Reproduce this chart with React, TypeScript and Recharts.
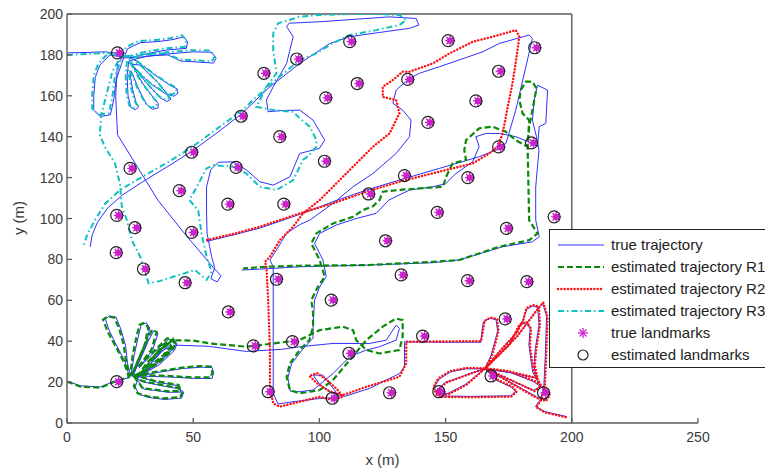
import React from 'react';
import { ComposedChart, Line, Scatter, XAxis, YAxis, ReferenceLine } from 'recharts';

// true trajectories (one per robot)
const trueR1 = [
  [0, 20.5], [5.3, 18.2], [13.2, 17.6], [19.1, 20.6], [24.8, 22.2],
  [23, 30], [19.6, 38], [16.8, 45], [15.2, 50.8], [16.8, 52.4], [19.4, 51.8], [21.3, 46], [23.2, 38], [24, 29], [25.3, 22.8],
  [26.6, 33], [28.2, 42], [29.4, 48], [31.4, 49], [32.8, 46.5], [31.3, 38], [27.8, 28], [26, 22.8],
  [29.7, 33], [32.2, 40], [34.4, 45.2], [36.1, 44], [34, 36], [28.6, 27],
  [31.6, 31], [36.6, 37], [40.2, 40.8], [42.6, 40.6], [43, 38.5], [38.6, 32.5], [30.6, 24.6], [34.6, 31.5], [38.6, 37.5], [41.6, 40],
  [43.6, 39], [42.6, 35.5], [36.6, 28.5], [29.6, 23.6], [33.6, 29.5], [37.6, 35], [41.1, 38.5], [42.1, 36.5], [37.6, 30.5], [30.6, 24.6],
  [26.5, 22.6], [35.5, 24.6], [45.5, 26.6], [53.3, 27.3], [57.5, 27.1], [58.1, 24.6], [57.5, 21.8], [50.5, 21.8], [40.5, 22.5], [28.5, 23],
  [27, 17.6], [28.5, 14], [32.5, 12.5], [38.8, 11.5], [45.4, 12.2], [46.3, 15], [44.5, 16.7], [38.5, 18], [30.5, 20], [27.5, 21.6],
  [30.5, 16.6], [40.5, 15], [45, 15.1], [44.7, 18.1], [35.5, 20], [28.5, 22.6], [32.5, 29.5], [38.5, 36], [43, 38], [45, 38],
  [56, 37.5], [71, 35], [85, 36], [92.2, 37.3], [105.4, 38.9], [119.9, 38.9], [126.5, 40.5],
  [130.4, 47.9], [131.7, 46.2], [130.4, 40.5], [123.8, 37.3], [118.6, 35.7], [112, 32.4], [105.4, 24.2], [97.5, 16.1], [92.2, 15.3],
  [88.5, 15.5], [87.5, 22], [89, 29], [93, 35.5], [97.5, 41.5], [97.5, 48.7], [98.1, 60.1], [100.1, 66.6], [102.7, 71.5], [101.4, 79.7],
  [98.1, 87.8], [100.1, 92.7], [106.7, 96.8], [114.6, 100], [122.5, 102.5], [127.5, 109], [135.7, 113.9], [144.9, 115.5], [150, 117],
  [154.1, 122], [160.7, 127.7], [163.3, 135.1], [162, 140], [166, 141.6], [171.3, 141.6], [177.8, 140], [184.4, 136.7], [186.4, 135.1],
  [187.1, 144.9], [189.7, 146.5], [190.4, 162.8], [186.4, 165.2], [185.1, 157.9], [184.4, 148.1], [186, 140], [187, 133.5], [185.7, 115.5],
  [185.7, 99.2], [187.1, 91.1], [184.4, 88.6], [172.6, 86.2], [155.4, 79.7], [144.9, 78.4], [118.6, 77.2], [92.2, 76.4], [80, 75.5], [69.2, 74.8],
];
const trueR2 = [
  [55.3, 88.8], [66, 92], [76.4, 95.3], [92.2, 102], [105.4, 108.2], [118.6, 113.9], [131.7, 118.8], [147.5, 124.5], [163.3, 130.2],
  [169.9, 133.5], [173.9, 136.7], [177.8, 153], [181.8, 174.2], [184.4, 188.1], [183.1, 189.7], [171.3, 185.6], [164.7, 181.5],
  [147.5, 174.2], [139.6, 171], [135.7, 168.5], [130.4, 162.8], [129.1, 156.3], [133, 153], [136.3, 148.1], [135.7, 140], [130.4, 131.8],
  [121.2, 122], [113.3, 115.5], [105.4, 107.4], [96.2, 99.2], [92.2, 97], [86.9, 92.7], [83, 84.6], [80.4, 79.7], [81.7, 76.4],
  [81.7, 14.5], [83.6, 9.3], [89.6, 10.4], [100.1, 12], [108, 12.5], [106, 16], [101.4, 23.4], [97.5, 23.4], [100, 19], [105, 14.5],
  [110, 13], [120, 17], [131.7, 24.2], [133.7, 27.5], [133.7, 39.7], [150, 39.5], [164, 39.5],
  [164.4, 45], [165, 49.6], [167.5, 51.2], [170, 50.5], [170.6, 45], [168, 33], [165.5, 26.5],
  [158, 26.5], [152, 25], [147.5, 21.5], [145.5, 17.5], [146.8, 14], [151, 14.5], [158, 19], [165.5, 26.5],
  [150, 20], [146, 15.5], [148, 13.2], [160, 13], [175.7, 13.3], [177.8, 15.5], [176, 17.5], [170, 21], [165.5, 26.5],
  [172, 36], [178, 44], [180.5, 50], [182.3, 55.8], [184.5, 57.2], [186.5, 56.5], [187, 48], [185.5, 36], [185, 28], [186, 22], [176, 24.5], [165.5, 26.5],
  [175, 38], [179.6, 47.9], [182, 49], [183.5, 46], [183, 38], [184.5, 25], [187.5, 18], [185, 16], [165.5, 26.5],
  [175, 25], [184.9, 20.2], [189, 16.5], [190.9, 13.7], [189.5, 11.2], [186.5, 12.5], [180, 17], [165.5, 26.5],
  [178, 42], [186, 55], [188.5, 58.5], [190, 52], [189.5, 33.2], [188.9, 17], [187.5, 11.5], [185.6, 8], [189.5, 5.5], [198.1, 3.1],
];
const trueR3 = [
  [0, 181], [8, 181.2], [15, 181.5], [19, 181], [21.5, 179],
  [17, 180], [13, 175], [11.2, 169], [10.6, 160], [10.6, 153], [13.2, 149.9], [17.2, 150.7], [18.5, 158], [19.5, 168], [22, 177],
  [24, 183], [29, 186], [36, 186.5], [42, 187.5], [46.2, 188.8], [47.8, 186.5], [47.3, 183.2], [39.6, 182.4], [31, 180.5], [25, 178.5],
  [27.5, 177], [35, 170], [41, 165], [43.6, 163.4], [44, 161.3], [42.3, 159.8], [39, 161], [33, 166], [28, 172], [25.5, 175.5],
  [29, 175], [36, 166.5], [40, 160.5], [41.2, 158.3], [39.6, 157.2], [37, 159], [31, 167], [27, 173.5],
  [26.3, 174], [30, 166], [34, 159.5], [36.2, 156.2], [36, 154], [33.8, 153.4], [31.4, 156], [28.5, 163], [25.5, 172],
  [24.8, 172], [26, 163], [27.3, 157], [28.4, 154.6], [27, 153.2], [25.3, 154.4], [24.2, 160], [23.8, 170], [24.5, 177],
  [32, 179.5], [40, 180], [45, 177], [52, 176.5], [58, 176], [59.1, 178.3], [57.4, 181.3], [50, 181.5], [40, 180.5], [30, 179], [22, 178.5],
  [20, 176], [19.3, 160], [20, 141], [28, 125], [36, 109], [47, 92], [58, 76], [61, 72],
  [59.5, 69], [57, 70.5], [58.5, 76], [57.3, 81.3], [55.5, 92.7], [55.3, 102.5], [55.3, 115.5], [57, 124], [60, 127.5], [65.9, 127.7],
  [71.1, 123.7], [76.4, 118], [81.7, 116.3], [88.3, 120.4], [92.2, 131.8], [100, 134.3], [102.1, 138.3], [97.5, 148.1], [92.2, 153],
  [85, 152.8], [79.7, 152.2], [79, 157.9], [81.7, 164.4], [87, 175.8], [89.6, 188.9], [87, 193.8], [88, 195.5], [100.1, 196.2],
  [115, 197.5], [127.8, 198.6], [138.3, 197.8], [139.4, 194.6], [135.7, 193], [124, 191], [112, 188.9], [104, 185.5], [100.1, 182.3],
  [92.2, 175.8], [80, 164], [69, 151], [59, 141.5], [49, 132.5], [40, 125.5], [30, 118], [22, 111.5], [16, 105], [12, 98], [10, 92], [9.2, 86.2],
];

// estimated trajectories
const estR1 = [
  [0, 20.2], [5.3, 17.8], [13.2, 17.3], [19.1, 20.3], [24.5, 22.5],
  [22.5, 30], [19, 38], [16, 45], [14.3, 50.5], [16, 52], [18.7, 51.6], [20.7, 46], [22.5, 38], [23.5, 29], [25, 23],
  [26, 33], [27.5, 42], [28.7, 48], [30.7, 49], [32.2, 46.5], [30.7, 38], [27.2, 28], [25.5, 23],
  [29, 33], [31.5, 40], [33.7, 45.5], [35.5, 44.5], [33.5, 36], [28, 27],
  [31, 31], [36, 37], [39.6, 41.4], [42, 41.2], [42.5, 39], [38, 33], [30, 25], [34, 32], [38, 38], [41, 40.5], [43, 39.5], [42, 36],
  [36, 29], [29, 24], [33, 30], [37, 35.5], [40.5, 39], [41.5, 37], [37, 31], [30, 25], [26, 23],
  [35, 25], [45, 27], [52.8, 27.8], [57, 27.6], [57.6, 25], [57, 22.3], [50, 22.3], [40, 23], [28, 23.5],
  [26.5, 18], [28, 14.5], [32, 13], [38.3, 12], [44.9, 12.7], [45.8, 15.5], [44, 17.2], [38, 18.5], [30, 20.5], [27, 22],
  [30, 17], [40, 15.5], [44.5, 15.6], [44.2, 18.6], [35, 20.5], [28, 23], [32, 30], [38, 37], [42, 40.5], [50, 40.3],
  [56.6, 38.9], [71.1, 37.3], [81.7, 38.9], [92, 40.5], [100.1, 45.4], [109.3, 47.1], [113.3, 45.4], [114.6, 40.5], [118.6, 35.7],
  [123.8, 34], [131.7, 35.7], [133, 42.2], [133, 50.3], [130.4, 51.1], [125.1, 47.1], [118.6, 40.5], [112, 30.8], [105.4, 21], [100.1, 16.1],
  [92.2, 14.5], [88.3, 16.1], [87, 22.6], [88.3, 29.1], [92.2, 35.7], [96, 40.5], [97.5, 47.1], [97.5, 53.6], [96.8, 60.1], [99.4, 66.6],
  [102.1, 71.5], [100.1, 79.7], [96.8, 87.8], [98.8, 92.7], [105.4, 97.6], [113.3, 100.8], [117.2, 104.1], [121.2, 106], [123.8, 109],
  [125.1, 113.1], [132, 114], [139.6, 114.7], [148.9, 115.5], [150.2, 120.4], [152.8, 127], [158.1, 128.6], [157.4, 133.5], [158.1, 138.3],
  [163.3, 144.1], [168.6, 144.9], [173.9, 142.4], [177.8, 138.3], [182.5, 135.1], [183.1, 144.9], [184.4, 153], [186, 163.6], [184.4, 166.9],
  [181.8, 166.9], [179.8, 162.8], [179.2, 157.9], [180.5, 151.4], [183.1, 148.1], [182.5, 135.1], [182.8, 117.2], [183.1, 99.2],
  [186.4, 92.7], [183.1, 89.4], [171.3, 86.2], [155.4, 79.7], [144.9, 78.8], [118.6, 77.2], [92.2, 76.9], [79, 76.4], [69.8, 75.6],
];
const estR2 = [
  [55.5, 89.5], [66, 92.5], [76.4, 96], [92.2, 102.5], [105.4, 107.4], [118.6, 113.1], [131.7, 118], [147.5, 122.9], [160.7, 126.9],
  [167.3, 131.8], [170.6, 135.1], [172.6, 141.6], [174.5, 154], [176.5, 166.1], [178, 178], [179.2, 188.9], [177.8, 192.1], [168.6, 188.9],
  [160.7, 186.4], [151.5, 180.7], [144.9, 175.8], [135.7, 171.8], [133, 171.8], [129.1, 167.7], [125.1, 164.4], [125.1, 159.5],
  [130.4, 157.9], [131.7, 151.4], [127.8, 141.6], [121.2, 135.1], [114.6, 126.9], [109.3, 120.4], [105.4, 115.5], [100.1, 109],
  [93.5, 102.5], [89.6, 96], [84.3, 89.4], [80.4, 81.3], [78.4, 78.8], [79, 76.4], [79.7, 60.1], [80.4, 35.7], [80.4, 17.7], [81.7, 9.6],
  [84.3, 8], [89.6, 9.6], [94.8, 11.2], [100.1, 12.8], [105.4, 11.2], [109.3, 12.8], [107, 16.5], [103, 21], [99, 24.5], [96, 23],
  [99, 19.5], [104, 15.5], [109, 13.5], [118.6, 17.7], [131.7, 22.6], [134.4, 29.1], [134.4, 39.7], [150, 39.9], [164, 40],
  [164.8, 45], [165.4, 49.9], [167.8, 51.6], [170.4, 50.9], [171, 45], [168.4, 33], [165.8, 26.8],
  [158, 26.9], [151.8, 25.4], [147.1, 21.8], [145.1, 17.5], [146.5, 13.6], [151.2, 14.1], [158.3, 18.7], [165.8, 26.8],
  [150.2, 19.7], [146.2, 15.2], [148, 12.8], [160, 12.6], [176, 12.9], [178.2, 15.4], [176.3, 17.8], [170.3, 21.3], [165.8, 26.8],
  [172.3, 36.3], [178.3, 44.3], [180.8, 50.3], [182, 56.2], [184.5, 57.7], [187, 56.9], [187.4, 48], [185.9, 36], [185.4, 28], [186.4, 22],
  [176.2, 24.9], [165.8, 26.8],
  [175.3, 38.3], [179.3, 48.3], [182, 49.5], [183.9, 46.2], [183.4, 38], [184.9, 25], [187.9, 18.2], [185.2, 15.6], [165.8, 26.8],
  [175.3, 25.3], [185.2, 20.6], [189.4, 16.8], [191.3, 13.8], [189.8, 10.8], [186.4, 12.1], [179.8, 16.7], [165.8, 26.8],
  [178.3, 42.3], [186.3, 55.4], [188.7, 59], [190.4, 52], [189.9, 33.2], [189.3, 17], [187.9, 11.3], [185.9, 7.7], [189.5, 5.1], [198.1, 2.7],
];
const estR3 = [
  [0, 180], [8, 180.5], [15, 181], [19, 180.5], [21, 179.5],
  [16.4, 180.8], [12.4, 175.8], [10.6, 169.8], [10, 160.8], [10, 153.8], [12.6, 150.7], [16.6, 151.5], [17.9, 158.8], [18.9, 168.8], [21.4, 177.8],
  [23.4, 183.8], [28.4, 186.8], [35.4, 187.3], [41.4, 188.3], [45.6, 189.6], [47.2, 187.3], [46.7, 184], [39, 183.2], [30.4, 181.3], [24.4, 179.3],
  [26.9, 177.8], [34.4, 170.8], [40.4, 165.8], [43, 164.2], [43.4, 162.1], [41.7, 160.6], [38.4, 161.8], [32.4, 166.8], [27.4, 172.8], [24.9, 176.3],
  [28.4, 175.8], [35.4, 167.3], [39.4, 161.3], [40.6, 159.1], [39, 158], [36.4, 159.8], [30.4, 167.8], [26.4, 174.3],
  [25.7, 174.8], [29.4, 166.8], [33.4, 160.3], [35.6, 157], [35.4, 154.8], [33.2, 154.2], [30.8, 156.8], [27.9, 163.8], [24.9, 172.8],
  [24.2, 172.8], [25.4, 163.8], [26.7, 157.8], [27.8, 155.4], [26.4, 154], [24.7, 155.2], [23.6, 160.8], [23.2, 170.8], [23.9, 177.8],
  [31.4, 180.3], [39.4, 180.8], [44.4, 177.8], [51.4, 177.3], [57.4, 176.8], [58.5, 179.1], [56.8, 182.1], [49.4, 182.3], [39.4, 181.3],
  [29.4, 179.8], [21.4, 179.3],
  [18, 172], [15.5, 160], [13.5, 150], [13, 141], [15, 135], [19, 127], [21, 117], [21.7, 106],
  [23.7, 99.2], [25.7, 89.4], [29, 81.3], [32.3, 68.3], [37, 69.5], [42.1, 71.5], [50.7, 74.8], [55.3, 70], [57.3, 74], [55.3, 81.3],
  [53.3, 92.7], [52, 104], [48.5, 109], [51.4, 115.5], [55.3, 124.5], [58, 126.1], [65.9, 125.3], [71.1, 122], [76.4, 115.5], [83, 113.9],
  [89.6, 118.8], [93.5, 128.6], [96, 131], [98.8, 135.1], [98.8, 138.3], [96.2, 144.9], [92.2, 149], [89.6, 152.2], [81.7, 153],
  [75, 154.6], [76.4, 157.9], [79, 164.4], [83, 171], [81.7, 182.3], [81.7, 190.5], [83.6, 195.4], [92.2, 198.7], [100, 199.5], [112, 200],
  [122, 200], [131.7, 199.5], [134.4, 197], [131.7, 194.6], [122, 192], [112, 189.7], [105, 185.5], [98.8, 180.7], [92.2, 177.5], [80, 165],
  [69, 152.5], [59, 143.5], [49, 134.5], [40, 127.5], [30, 120.5], [21, 114], [15, 107], [11, 99], [8, 92], [6.6, 87],
];

// landmarks
const trueLandmarks = [
  [20.8, 181], [78.8, 171], [91.8, 178], [112.8, 186.5], [151.8, 187], [186.1, 183.5], [135.8, 168], [115.8, 166], [103.3, 159],
  [171.8, 172], [162.8, 157.5], [143.8, 147], [184.8, 137], [171.8, 135], [102.8, 128], [134.5, 121], [159.6, 120], [120.3, 112],
  [147.5, 103], [193.8, 100.8], [69.8, 150], [85.1, 140], [50.2, 132.4], [67.8, 125], [25.8, 124.5], [45.3, 113.6], [64.5, 107],
  [86.7, 107], [20.5, 101.5], [27.7, 95.5], [50.2, 93.2], [20.3, 83.3], [31.1, 75.3], [47.6, 68.6], [83.8, 70.3], [64.7, 54.3],
  [74.6, 37.7], [90.1, 39.8], [20.5, 20.2], [80.5, 15.3], [174.9, 95.2], [127, 89.1], [133.2, 72.4], [159.5, 69.6], [183, 69.1],
  [105.5, 60.1], [174.4, 50.9], [141.7, 42.5], [112.5, 34.1], [168.8, 23], [105.9, 12.1], [128.6, 14.8], [148.1, 15.3], [189.6, 14.8],
];
const estLandmarks = [
  [20, 181], [78, 171], [91, 178], [112, 186.5], [151, 187], [185.3, 183.5], [135, 168], [115, 166], [102.5, 159],
  [171, 172], [162, 157.5], [143, 147], [184, 137], [171, 135], [102, 128], [133.7, 121], [158.8, 120], [119.5, 112],
  [146.7, 103], [193, 100.8], [69, 150], [84.3, 140], [49.4, 132.4], [67, 125], [25, 124.5], [44.5, 113.6], [63.7, 107],
  [85.9, 107], [19.7, 101.5], [26.9, 95.5], [49.4, 93.2], [19.5, 83.3], [30.3, 75.3], [46.8, 68.6], [83, 70.3], [63.9, 54.3],
  [73.8, 37.7], [89.3, 39.8], [19.7, 20.2], [79.7, 15.3], [174.1, 95.2], [126.2, 89.1], [132.4, 72.4], [158.7, 69.6], [182.2, 69.1],
  [104.7, 60.1], [173.6, 50.9], [140.9, 42.5], [111.7, 34.1], [168, 23], [105.1, 12.1], [127.8, 14.8], [147.3, 15.3], [188.8, 14.8],
];

const xTicks = [0, 50, 100, 150, 200, 250];
const yTicks = [0, 20, 40, 60, 80, 100, 120, 140, 160, 180, 200];

const BLUE = '#3030ff';
const GREEN = '#0a8a0a';
const RED = '#ff1010';
const CYAN = '#10c0c0';
const MAGENTA = '#d020d0';
const AXIS = '#5a5a5a';
const FONT = '"Liberation Sans", Arial, sans-serif';

const pts = (arr: number[][]) => arr.map(([x, y]) => ({ x, y }));

const XTick = (props: any) => {
  const { x, y, payload } = props;
  return (
    <g>
      <line x1={x} y1={y} x2={x} y2={y - 5} stroke={AXIS} strokeWidth={1.3} />
      <text x={x} y={y + 19} textAnchor="middle" fontSize={14} fill="#3a3a3a" fontFamily={FONT}>{payload.value}</text>
    </g>
  );
};

const YTick = (props: any) => {
  const { x, y, payload } = props;
  return (
    <g>
      <line x1={x} y1={y} x2={x + 5} y2={y} stroke={AXIS} strokeWidth={1.3} />
      <text x={x - 4} y={y + 5} textAnchor="end" fontSize={14} fill="#3a3a3a" fontFamily={FONT}>{payload.value}</text>
    </g>
  );
};

const StarMark = (p: any) => {
  const { cx, cy } = p;
  const r = 5;
  const d = 3.6;
  return (
    <g stroke={MAGENTA} strokeWidth={1.3}>
      <circle cx={cx} cy={cy} r={3.2} fill="#b828c0" stroke="none" />
      <line x1={cx - r} y1={cy} x2={cx + r} y2={cy} />
      <line x1={cx} y1={cy - r} x2={cx} y2={cy + r} />
      <line x1={cx - d} y1={cy - d} x2={cx + d} y2={cy + d} />
      <line x1={cx - d} y1={cy + d} x2={cx + d} y2={cy - d} />
    </g>
  );
};

const CircleMark = (p: any) => {
  const { cx, cy } = p;
  return <circle cx={cx} cy={cy} r={6} fill="none" stroke="#222" strokeWidth={1.2} />;
};

const legendRows = [
  { label: 'true trajectory', color: BLUE, dash: undefined, width: 1.2, cap: 'butt' },
  { label: 'estimated trajectory R1', color: GREEN, dash: '6 3', width: 2.2, cap: 'butt' },
  { label: 'estimated trajectory R2', color: RED, dash: '0.1 3.2', width: 2.4, cap: 'round' },
  { label: 'estimated trajectory R3', color: CYAN, dash: '6 3 1.5 3', width: 2, cap: 'butt' },
  { label: 'true landmarks', marker: 'star' },
  { label: 'estimated landmarks', marker: 'circle' },
];

const LegendBox = () => (
  <div style={{ position: 'absolute', left: 549, top: 229, width: 240, height: 139, background: '#fff', border: '1px solid #222', boxSizing: 'border-box' }}>
    <svg width={240} height={137}>
      {legendRows.map((row: any, i) => {
        const cy = 15 + i * 22;
        return (
          <g key={row.label}>
            {row.marker === 'star' && (
              <g stroke={MAGENTA} strokeWidth={1.3}>
                <line x1={28} y1={cy} x2={38} y2={cy} />
                <line x1={33} y1={cy - 5} x2={33} y2={cy + 5} />
                <line x1={29.5} y1={cy - 3.5} x2={36.5} y2={cy + 3.5} />
                <line x1={29.5} y1={cy + 3.5} x2={36.5} y2={cy - 3.5} />
              </g>
            )}
            {row.marker === 'circle' && <circle cx={33} cy={cy} r={5} fill="none" stroke="#222" strokeWidth={1.2} />}
            {!row.marker && (
              <line x1={8} y1={cy} x2={54} y2={cy} stroke={row.color} strokeWidth={row.width} strokeDasharray={row.dash} strokeLinecap={row.cap} />
            )}
            <text x={61} y={cy + 5} fontSize={15} fill="#222" fontFamily={FONT}>{row.label}</text>
          </g>
        );
      })}
    </svg>
  </div>
);

const App: React.FC = () => {
  return (
    <div style={{ position: 'absolute', left: 0, top: 0, width: 765, height: 468, background: '#fff', overflow: 'hidden' }}>
      <ComposedChart width={765} height={468} margin={{ top: 14, right: 67, bottom: 0, left: 0 }}>
        <XAxis
          type="number"
          dataKey="x"
          domain={[0, 250]}
          ticks={xTicks}
          allowDataOverflow
          height={45}
          tickSize={0}
          tickMargin={0}
          tick={XTick}
          axisLine={{ stroke: AXIS, strokeWidth: 1.4 }}
          label={{ value: 'x (m)', position: 'insideBottom', offset: 3, fontSize: 15, fill: '#3a3a3a', fontFamily: FONT }}
        />
        <YAxis
          type="number"
          dataKey="y"
          domain={[0, 200]}
          ticks={yTicks}
          allowDataOverflow
          width={67}
          tickSize={0}
          tickMargin={0}
          tick={YTick}
          axisLine={{ stroke: AXIS, strokeWidth: 1.4 }}
          label={{
            position: 'insideLeft',
            content: () => (
              <text x={24} y={218} transform="rotate(-90 24 218)" textAnchor="middle" fontSize={15} fill="#3a3a3a" fontFamily={FONT}>y (m)</text>
            ),
          }}
        />
        <ReferenceLine segment={[{ x: 0, y: 200 }, { x: 200, y: 200 }]} stroke={AXIS} strokeWidth={1.4} />
        <ReferenceLine x={200} stroke={AXIS} strokeWidth={1.4} />

        <Line data={pts(trueR1)} dataKey="y" type="linear" stroke={BLUE} strokeWidth={1} dot={false} activeDot={false} isAnimationActive={false} />
        <Line data={pts(trueR2)} dataKey="y" type="linear" stroke={BLUE} strokeWidth={1} dot={false} activeDot={false} isAnimationActive={false} />
        <Line data={pts(trueR3)} dataKey="y" type="linear" stroke={BLUE} strokeWidth={1} dot={false} activeDot={false} isAnimationActive={false} />
        <Line data={pts(estR1)} dataKey="y" type="linear" stroke={GREEN} strokeWidth={2.2} strokeDasharray="6 3" dot={false} activeDot={false} isAnimationActive={false} />
        <Line data={pts(estR2)} dataKey="y" type="linear" stroke={RED} strokeWidth={2.4} strokeDasharray="0.1 3.2" strokeLinecap="round" dot={false} activeDot={false} isAnimationActive={false} />
        <Line data={pts(estR3)} dataKey="y" type="linear" stroke={CYAN} strokeWidth={2} strokeDasharray="6 3 1.5 3" dot={false} activeDot={false} isAnimationActive={false} />
        <Scatter data={pts(trueLandmarks)} shape={(p: any) => <StarMark {...p} />} isAnimationActive={false} />
        <Scatter data={pts(estLandmarks)} shape={(p: any) => <CircleMark {...p} />} isAnimationActive={false} />
      </ComposedChart>
      <LegendBox />
    </div>
  );
};

export default App;
